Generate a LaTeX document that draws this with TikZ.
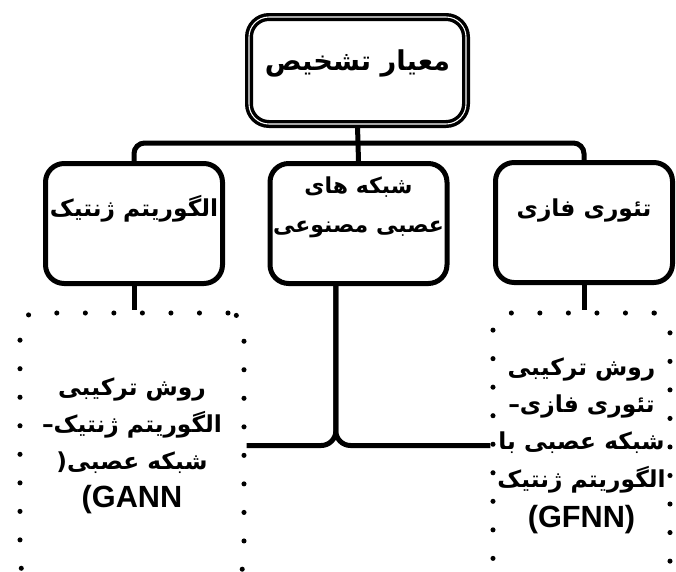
\documentclass[tikz,border=0pt]{standalone}
\usepackage{fontspec}
\TeXXeTstate=1
\newfontfamily\farsi[Script=Arabic]{DejaVu Sans}
\newfontfamily\latin{Liberation Sans}
\newcommand{\fatext}[1]{\beginR #1\endR}
\tikzset{
  boxtext/.style={font={\farsi\bfseries\fontsize{17.5pt}{28pt}\selectfont}, align=center, inner sep=0pt},
  topbox/.style={draw, rounded corners=15pt, line width=2.6pt, double, double distance=0.8pt,
    minimum width=162.75pt, minimum height=80.25pt},
  catbox/.style={draw, rounded corners=14pt, line width=3.75pt,
    minimum width=132.75pt, minimum height=90pt},
  dotbox/.style={boxtext, draw, rounded corners=12pt, line width=3.8pt, line cap=round,
    dash pattern=on 0pt off 21.4pt, minimum height=198.75pt},
  link/.style={line width=3.75pt},
}

\begin{document}
\begin{tikzpicture}[x=0.75pt, y=-0.75pt]
  %frame
  \useasboundingbox (0,0) rectangle (676,572);
  \clip (0,0) rectangle (676,572);
  %main box
  \node[topbox] (top) at (357.5,70.5) {};
  \node[boxtext, font={\farsi\bfseries\fontsize{20.5pt}{28pt}\selectfont}] (toptxt)
    at ([yshift=5pt]top.center) {\fatext{معیار تشخیص}};
  %categories
  \node[catbox] (gen) at (134,223.5) {};
  \node[catbox] (net) at (358.5,223.5) {};
  \node[catbox] (fuzzy) at (584,222.5) {};
  \node[boxtext] (gentxt) at ([yshift=11pt]gen.center) {\fatext{الگوریتم ژنتیک}};
  \node[boxtext, font={\farsi\bfseries\fontsize{16.5pt}{29pt}\selectfont}] (nettxt)
    at ([yshift=12pt]net.center) {\fatext{شبکه های}\\ \fatext{عصبی مصنوعی}};
  \node[boxtext] (fuzzytxt) at ([yshift=9pt]fuzzy.center) {\fatext{تئوری فازی}};
  %hybrid methods
  \node[dotbox, minimum width=168pt] (gann) at (132,445.5)
    {\fatext{روش ترکیبی}\\ –\fatext{الگوریتم ژنتیک}\\ (\fatext{شبکه عصبی}\\
     {\latin\bfseries\fontsize{23pt}{28pt}\selectfont (GANN}};
  \node[dotbox, minimum width=132.75pt] (gfnn) at (581.5,445.5)
    {\fatext{روش ترکیبی}\\ –\fatext{تئوری فازی}\\ \fatext{شبکه عصبی با}\\
     \fatext{الگوریتم ژنتیک}\\[2pt] {\latin\bfseries\fontsize{23pt}{28pt}\selectfont (GFNN)}};
  %connectors
  \coordinate (bar) at (357.5,143);
  \draw[link] (top.south) -- (net.north);
  \draw[link, rounded corners=8pt] (gen.north) |- (bar) -| (fuzzy.north);
  \draw[link] (gen.south) -- (gen.south |- gann.north);
  \draw[link] (fuzzy.south) -- (fuzzy.south |- gfnn.north);
  \coordinate (drop) at ([xshift=-17pt]net.south);
  \draw[link, rounded corners=11pt] (drop) |- (gann.east);
  \draw[link, rounded corners=11pt] (drop) |- (gfnn.west);
\end{tikzpicture}
\end{document}
